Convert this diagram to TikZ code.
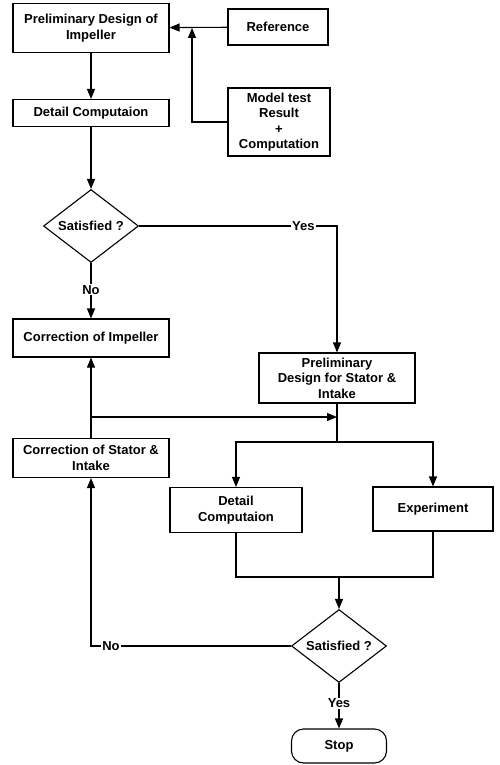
\documentclass[tikz,border=0pt]{standalone}
\usepackage{fontspec}
\setmainfont{Liberation Sans}
\usetikzlibrary{positioning}
\usetikzlibrary{arrows.meta}
\usetikzlibrary{calc}
\usetikzlibrary{shapes.geometric}
\tikzset{>={Triangle[length=10pt,width=8pt]}}
\tikzset{every path/.style={line width=1.1pt}}
\tikzset{box/.style={draw, rectangle, align=center, inner sep=1pt, font=\fontsize{13}{15.5}\selectfont\bfseries}}
\tikzset{dec/.style={draw, diamond, aspect=1.6, inner sep=0pt, minimum width=95pt, minimum height=73pt, font=\fontsize{13}{15.5}\selectfont\bfseries}}
\tikzset{term/.style={draw, rectangle, rounded corners=12pt, minimum width=95pt, minimum height=34pt, font=\fontsize{13}{15.5}\selectfont\bfseries}}
\tikzset{lbl/.style={fill=white, inner sep=1pt, font=\fontsize{13}{15.5}\selectfont\bfseries}}

\begin{document}
\begin{tikzpicture}[x=1pt, y=-1pt]
\useasboundingbox (0,0) rectangle (499,765);

% left column
\node[box, minimum width=156pt, minimum height=49pt] (pdi) at (91, 28) {Preliminary Design of\\Impeller};
\node[box, minimum width=156pt, minimum height=27pt] (dc1) at (91, 113) {Detail Computaion};
\node[dec] (sat1) at (91, 226) {Satisfied ?};
\node[box, minimum width=156pt, minimum height=38pt] (cim) at (91, 338) {Correction of Impeller};
\node[box, minimum width=156pt, minimum height=39pt] (cst) at (91, 458) {Correction of Stator \&\\Intake};

% inputs
\node[box, minimum width=100pt, minimum height=36pt] (ref) at (278, 27) {Reference};
\node[box, minimum width=102pt, minimum height=68pt] (mtr) at (279, 122) {Model test\\Result\\+\\Computation};

% right column
\node[box, minimum width=156pt, minimum height=50pt] (pds) at (337, 378) {Preliminary\\Design for Stator \&\\Intake};
\node[box, minimum width=132pt, minimum height=45pt] (dc2) at (236, 510) {Detail\\Computaion};
\node[box, minimum width=120pt, minimum height=44pt] (exp) at (433, 509) {Experiment};
\node[dec] (sat2) at (339, 646) {Satisfied ?};
\node[term] (stop) at (339, 746) {Stop};

\coordinate (j1) at (192, 28);
\coordinate (j2) at (91, 417);
\coordinate (j4) at (337, 442);
\coordinate (j5) at (339, 577);

\draw[->] (pdi) -- (dc1);
\draw[->] (ref) -- (pdi);
\draw[->] (mtr.west) -| (j1);
\draw[->] (dc1) -- (sat1);

\draw[->] (sat1.south) -- node[lbl, pos=0.48] {No} (cim.north);
\draw[->] (sat1.east) -- node[lbl, pos=0.83] {Yes} (sat1.east -| pds.north) -- (pds.north);

\draw[->] (cst.north) -- (cim.south);
\draw[->] (j2) -- (j2 -| pds.south);

\draw (pds.south) -- (j4);
\draw[->] (j4) -| (dc2.north);
\draw[->] (j4) -| (exp.north);

\draw (dc2.south) |- (j5) -| (exp.south);
\draw[->] (j5) -- (sat2.north);

\draw[->] (sat2.west) -- node[lbl, pos=0.9] {No} (sat2.west -| cst.south) -- (cst.south);
\draw[->] (sat2.south) -- node[lbl, pos=0.45] {Yes} (stop.north);

\end{tikzpicture}
\end{document}
